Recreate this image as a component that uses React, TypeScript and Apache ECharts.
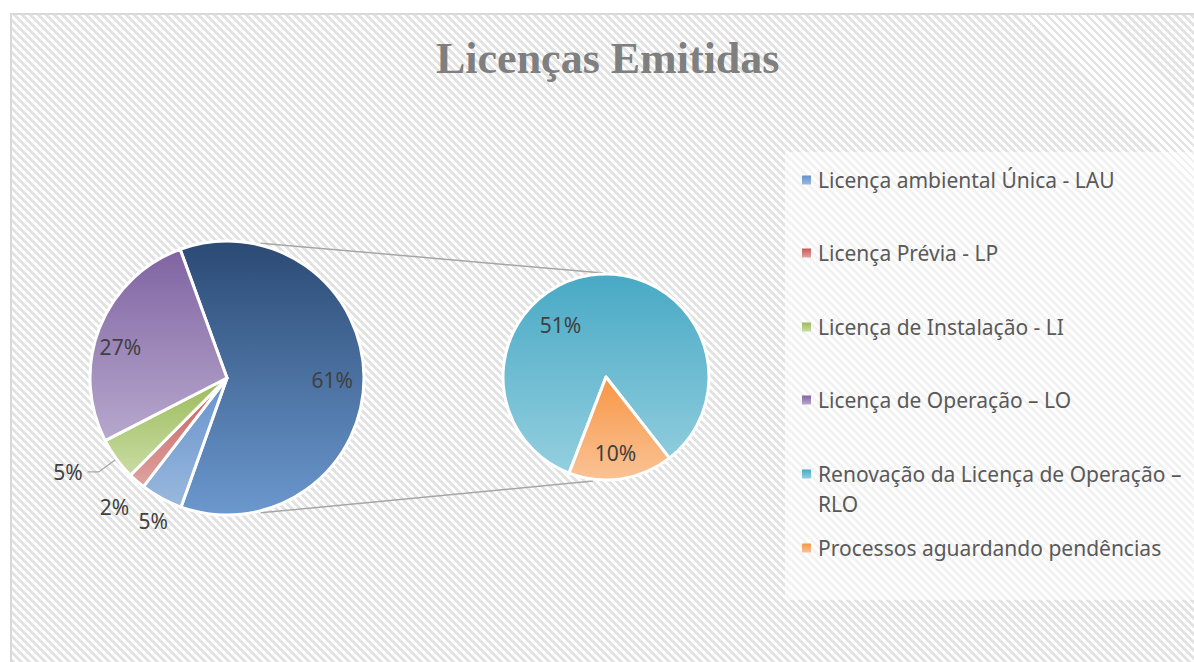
import React, { useEffect, useRef } from 'react';
import * as echarts from 'echarts';

const TITLE = 'Licenças Emitidas';

const MAIN_NAMES = [
  'Outros',
  'Licença ambiental Única - LAU',
  'Licença Prévia - LP',
  'Licença de Instalação - LI',
  'Licença de Operação – LO',
];
const MAIN_VALUES = [61, 5, 2, 5, 27];
const MAIN_TOP = ['#2b4a74', '#6592cc', '#c65b58', '#9bbb59', '#8064a2'];
const MAIN_BOTTOM = ['#6b98ce', '#9ab8dd', '#dea3a1', '#c9dca4', '#b7a8cd'];

const SUB_NAMES = ['Renovação da Licença de Operação – RLO', 'Processos aguardando pendências'];
const SUB_VALUES = [51, 10];
const SUB_TOP = ['#48a9c5', '#f79646'];
const SUB_BOTTOM = ['#94cfdf', '#fac395'];

const LEGEND_NAMES = [
  'Licença ambiental Única - LAU',
  'Licença Prévia - LP',
  'Licença de Instalação - LI',
  'Licença de Operação – LO',
  'Renovação da Licença de Operação – RLO',
  'Processos aguardando pendências',
];
const LEGEND_ROW_Y = [180, 253, 327, 400, 474, 548];

// layout
const L = { cx: 227, cy: 378, r: 137 };
const R = { cx: 606, cy: 377, r: 103 };
const LEGEND_LH = 30;

const grad = (a: string, b: string) => ({
  type: 'linear',
  x: 0,
  y: 0,
  x2: 0,
  y2: 1,
  colorStops: [
    { offset: 0, color: a },
    { offset: 1, color: b },
  ],
});

const LABEL_FONT = { fontFamily: 'Noto Sans', fontSize: 21, color: '#404040' };

const MAIN_LABEL_SHIFT: Record<number, [number, number]> = {
  0: [-4, 2],
  1: [33, 3],
  2: [23, 9],
  3: [0, 0],
  4: [-5, 9],
};
const SUB_LABEL_SHIFT: Record<number, [number, number]> = {
  0: [-34, 25],
  1: [-2, -1],
};

export default function App() {
  const ref = useRef<HTMLDivElement>(null);
  useEffect(() => {
    if (!ref.current) return;
    const chart = echarts.init(ref.current, undefined, { renderer: 'svg' });
    const rad = (d: number) => (d * Math.PI) / 180;

    const legends = LEGEND_NAMES.map((name, i) => {
      const wrap = name.startsWith('Renovação');
      const lines = wrap ? 3 : 1;
      return {
        orient: 'vertical',
        left: 802,
        top: LEGEND_ROW_Y[i] - (lines * LEGEND_LH) / 2,
        padding: 0,
        itemGap: 0,
        itemWidth: 9,
        itemHeight: 9,
        icon: 'rect',
        selectedMode: false,
        data: [name],
        itemStyle: { borderWidth: 0 },
        formatter: (n: string) =>
          wrap ? '\nRenovação da Licença de Operação –\nRLO' : n,
        textStyle: {
          fontFamily: 'Noto Sans',
          fontSize: 21,
          color: '#595959',
          lineHeight: LEGEND_LH,
          padding: [0, 0, 0, 2],
        },
      };
    });

    const option = {
      animation: false,
      title: {
        text: TITLE,
        left: 436,
        top: 36,
        padding: 0,
        textStyle: {
          fontFamily: 'Liberation Serif',
          fontWeight: 'bold',
          fontSize: 44,
          color: '#7f7f7f',
        },
      },
      legend: legends,
      graphic: [
        {
          type: 'rect',
          left: 785,
          top: 152,
          silent: true,
          shape: { width: 409, height: 448 },
          style: { fill: 'rgba(255,255,255,0.55)' },
          z: 0,
        },
        {
          type: 'line',
          silent: true,
          shape: {
            x1: L.cx + (L.r + 2) * Math.sin(rad(14)),
            y1: L.cy - (L.r + 2) * Math.cos(rad(14)),
            x2: R.cx - 3,
            y2: R.cy - R.r - 1,
          },
          style: { stroke: '#a6a6a6', lineWidth: 1.5 },
        },
        {
          type: 'line',
          silent: true,
          shape: {
            x1: L.cx + (L.r + 2) * Math.sin(rad(14)),
            y1: L.cy + (L.r + 2) * Math.cos(rad(14)),
            x2: R.cx - 13,
            y2: R.cy + R.r + 1,
          },
          style: { stroke: '#a6a6a6', lineWidth: 1.5 },
        },
      ],
      series: [
        {
          type: 'pie',
          center: [L.cx, L.cy],
          radius: L.r,
          startAngle: 110,
          clockwise: true,
          avoidLabelOverlap: false,
          label: { show: false },
          labelLine: { show: false },
          emphasis: { disabled: true },
          itemStyle: { borderColor: '#ffffff', borderWidth: 3 },
          data: MAIN_NAMES.map((n, i) => ({
            name: n,
            value: MAIN_VALUES[i],
            itemStyle: { color: grad(MAIN_TOP[i], MAIN_BOTTOM[i]) },
          })),
        },
        {
          type: 'pie',
          center: [L.cx, L.cy],
          radius: [L.r * 0.55, L.r],
          startAngle: 110,
          clockwise: true,
          silent: true,
          avoidLabelOverlap: false,
          emphasis: { disabled: true },
          itemStyle: { color: 'rgba(0,0,0,0)', borderWidth: 0 },
          labelLayout: (p: any) => {
            const s = MAIN_LABEL_SHIFT[p.dataIndex] || [0, 0];
            return { dx: s[0], dy: s[1] };
          },
          data: MAIN_NAMES.map((n, i) => {
            const inside = MAIN_VALUES[i] >= 20;
            return {
              name: n,
              value: MAIN_VALUES[i],
              label: {
                show: true,
                position: inside ? 'inside' : 'outside',
                formatter: (p: any) => p.value + '%',
                distanceToLabelLine: 5,
                ...LABEL_FONT,
              },
              labelLine: {
                show: i === 3,
                length: 22,
                length2: 11,
                lineStyle: { color: '#a6a6a6', width: 1.3 },
              },
            };
          }),
        },
        {
          type: 'pie',
          center: [R.cx, R.cy],
          radius: R.r,
          startAngle: 249,
          clockwise: true,
          avoidLabelOverlap: false,
          label: { show: false },
          labelLine: { show: false },
          emphasis: { disabled: true },
          itemStyle: { borderColor: '#ffffff', borderWidth: 3 },
          data: SUB_NAMES.map((n, i) => ({
            name: n,
            value: SUB_VALUES[i],
            itemStyle: { color: grad(SUB_TOP[i], SUB_BOTTOM[i]) },
          })),
        },
        {
          type: 'pie',
          center: [R.cx, R.cy],
          radius: [R.r * 0.45, R.r],
          startAngle: 249,
          clockwise: true,
          silent: true,
          avoidLabelOverlap: false,
          emphasis: { disabled: true },
          itemStyle: { color: 'rgba(0,0,0,0)', borderWidth: 0 },
          labelLine: { show: false },
          labelLayout: (p: any) => {
            const s = SUB_LABEL_SHIFT[p.dataIndex] || [0, 0];
            return { dx: s[0], dy: s[1] };
          },
          label: {
            show: true,
            position: 'inside',
            formatter: (p: any) => p.value + '%',
            ...LABEL_FONT,
          },
          data: SUB_NAMES.map((n, i) => ({ name: n, value: SUB_VALUES[i] })),
        },
      ],
    };
    chart.setOption(option as any);
    return () => chart.dispose();
  }, []);

  return (
    <div
      style={{
        position: 'fixed',
        left: 0,
        top: 0,
        width: 1194,
        height: 662,
        background: '#ffffff',
        overflow: 'hidden',
      }}
    >
      <div
        style={{
          position: 'absolute',
          left: 10,
          top: 13,
          width: 1300,
          height: 800,
          border: '2px solid #d9d9d9',
          background:
            'repeating-linear-gradient(45deg, #e2e2e2 0px, #e2e2e2 2.8px, #ffffff 2.8px, #ffffff 5.66px)',
        }}
      />
      <div ref={ref} style={{ position: 'absolute', left: 0, top: 0, width: 1194, height: 662 }} />
    </div>
  );
}
